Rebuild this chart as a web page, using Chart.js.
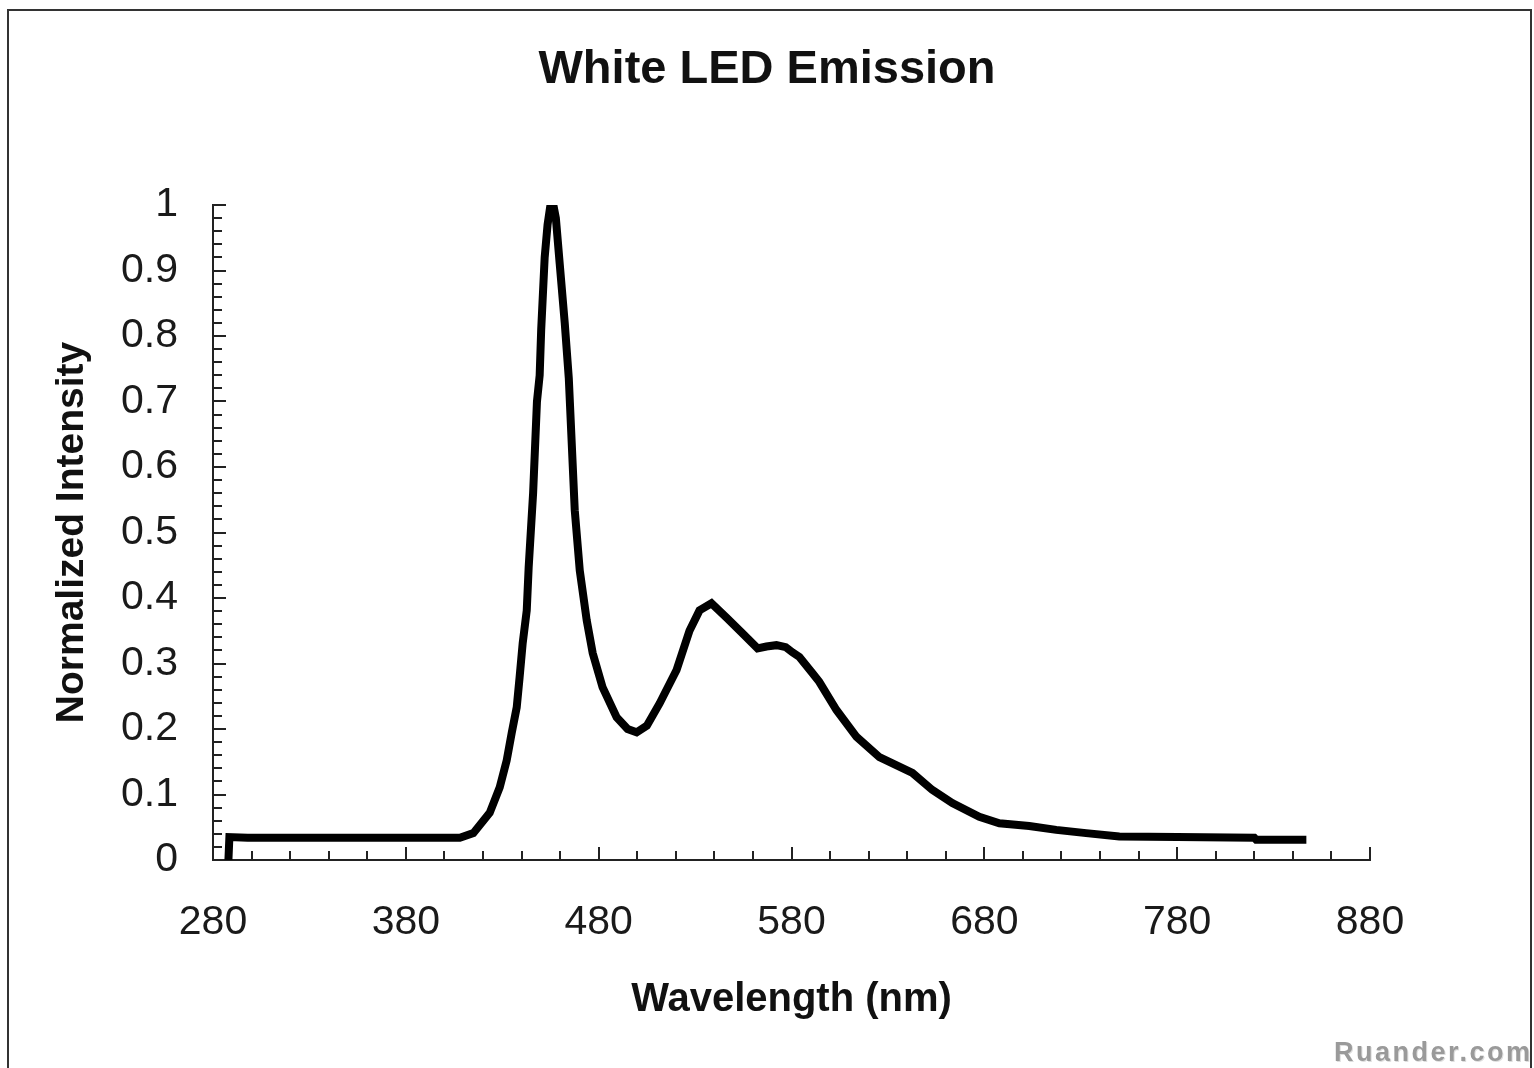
<!DOCTYPE html>
<html>
<head>
<meta charset="utf-8">
<title>White LED Emission</title>
<script src="https://cdn.jsdelivr.net/npm/chart.js@4.4.1/dist/chart.umd.min.js"></script>
<style>
  body { margin: 0; background: #fff; overflow: hidden; }
  #wrap { position: absolute; left: 0; top: 0; width: 1534px; height: 1068px; }
  #mark { position: absolute; left: 1334px; top: 1037px; font: bold 27px "Liberation Sans", Arial, sans-serif;
          color: #9a9a9a; letter-spacing: 2.5px; text-shadow: 1px 1px 0 #dedede; white-space: nowrap; }
  #frame { position: absolute; left: 7px; top: 9px; width: 1521px; height: 1100px; border: 2px solid #333; pointer-events: none; }
</style>
</head>
<body>
<div id="wrap"><canvas id="cv-led" width="1534" height="1068"></canvas></div>
<div id="mark">Ruander.com</div>
<div id="frame"></div>
<script>
// values
let wavelength = [288, 288.5, 298, 330, 380, 408, 415, 423.5, 428.7, 432.3, 434.9, 437.5, 439, 440.6, 442.7, 443.7,
    446, 448, 449.4, 450.2, 452, 453.5, 455, 456.5, 457.8, 459.8, 462.4, 464.5, 467.6, 470.2, 473.8, 476.9,
    482, 489.3, 495, 499.7, 505, 511.6, 520.4, 527.1, 532.3, 538.5, 546.3, 554.6, 562.4, 567, 572.2, 577,
    580.5, 584.1, 590.9, 594.4, 603.3, 613.7, 625.6, 642.7, 653, 663.4, 677.4, 687.8, 703.3, 717.3, 732.8,
    750, 780, 820, 821, 847];

let intensity = [0, 0.035, 0.034, 0.034, 0.034, 0.034, 0.041, 0.072, 0.111, 0.152, 0.194, 0.233, 0.279, 0.331, 0.381, 0.447,
    0.56, 0.70, 0.74, 0.81, 0.92, 0.97, 1.0, 1.0, 0.98, 0.91, 0.82, 0.736, 0.534, 0.442, 0.366, 0.316,
    0.264, 0.218, 0.2, 0.195, 0.205, 0.239, 0.29, 0.35, 0.381, 0.392, 0.37, 0.346, 0.323, 0.326, 0.328, 0.325,
    0.317, 0.31, 0.285, 0.272, 0.229, 0.188, 0.157, 0.133, 0.107, 0.087, 0.066, 0.056, 0.052, 0.046, 0.041,
    0.036, 0.035, 0.034, 0.031, 0.031];

let xLabels = [280, 380, 480, 580, 680, 780, 880];
let yLabels = [0, 0.1, 0.2, 0.3, 0.4, 0.5, 0.6, 0.7, 0.8, 0.9, 1];
let xMinorStep = 20;
let yMinorStep = 0.02;

let fam = '"Liberation Sans", Arial, sans-serif';

// small tick marks pointing into the plot
let inwardTicks = {
    id: 'inwardTicks',
    beforeDatasetsDraw(chart) {
        let ctx = chart.ctx;
        let a = chart.chartArea;
        let x = chart.scales.x, y = chart.scales.y;
        ctx.save();
        ctx.strokeStyle = '#222';
        ctx.lineWidth = 2;
        ctx.beginPath();
        let nx = Math.round((x.max - x.min) / xMinorStep);
        for (let i = 0; i <= nx; i++) {
            let v = x.min + i * xMinorStep;
            let px = Math.round(x.getPixelForValue(v));
            let len = xLabels.includes(v) ? 13 : 9;
            ctx.moveTo(px, a.bottom);
            ctx.lineTo(px, a.bottom - len);
        }
        let ny = Math.round((y.max - y.min) / yMinorStep);
        for (let i = 0; i <= ny; i++) {
            let py = Math.round(y.getPixelForValue(y.min + i * yMinorStep));
            let len = i % 5 === 0 ? 13 : 9;
            ctx.moveTo(a.left, py);
            ctx.lineTo(a.left + len, py);
        }
        ctx.stroke();
        ctx.restore();
    }
};

function loadGrafico() {
    let ctx = document.getElementById('cv-led').getContext('2d');
    let pts = wavelength.map((w, i) => ({ x: w, y: intensity[i] }));

    new Chart(ctx, {
        type: 'line',
        data: {
            datasets: [{
                label: 'White LED',
                data: pts,
                borderColor: '#000',
                borderWidth: 8,
                pointRadius: 0,
                tension: 0,
                fill: false
            }]
        },
        options: {
            responsive: false,
            animation: false,
            devicePixelRatio: 1,
            layout: { padding: 0 },
            plugins: {
                legend: { display: false },
                tooltip: { enabled: false },
                title: {
                    display: true,
                    text: 'White LED Emission',
                    color: '#111',
                    font: { family: fam, size: 47, weight: 'bold' },
                    padding: { top: 42, bottom: 106.6 }
                }
            },
            scales: {
                x: {
                    type: 'linear',
                    min: 280,
                    max: 880,
                    afterBuildTicks: s => { s.ticks = xLabels.map(v => ({ value: v })); },
                    afterFit: s => { s.height = 208; },
                    grid: { display: false, drawTicks: false },
                    border: { display: true, color: '#222', width: 2 },
                    ticks: { padding: 38, color: '#1a1a1a', maxRotation: 0, autoSkip: false,
                             font: { family: fam, size: 41 } },
                    title: { display: true, text: 'Wavelength (nm)', color: '#111',
                             font: { family: fam, size: 40, weight: 'bold' }, padding: { top: 0, bottom: 44 } }
                },
                y: {
                    type: 'linear',
                    position: 'left',
                    min: 0,
                    max: 1,
                    afterBuildTicks: s => { s.ticks = yLabels.map(v => ({ value: v })); },
                    afterFit: s => { s.width = 213; },
                    grid: { display: false, drawTicks: false },
                    border: { display: true, color: '#222', width: 2 },
                    ticks: { padding: 35, color: '#1a1a1a', font: { family: fam, size: 41 },
                             callback: v => String(v) },
                    title: { display: true, text: 'Normalized Intensity', color: '#111',
                             font: { family: fam, size: 39, weight: 'bold' }, padding: { top: 49, bottom: 0 } }
                },
                yR: {
                    position: 'right',
                    display: true,
                    afterFit: s => { s.width = 164; },
                    grid: { display: false },
                    border: { display: false },
                    ticks: { display: false }
                }
            }
        },
        plugins: [inwardTicks]
    });
}

loadGrafico();
</script>
</body>
</html>
